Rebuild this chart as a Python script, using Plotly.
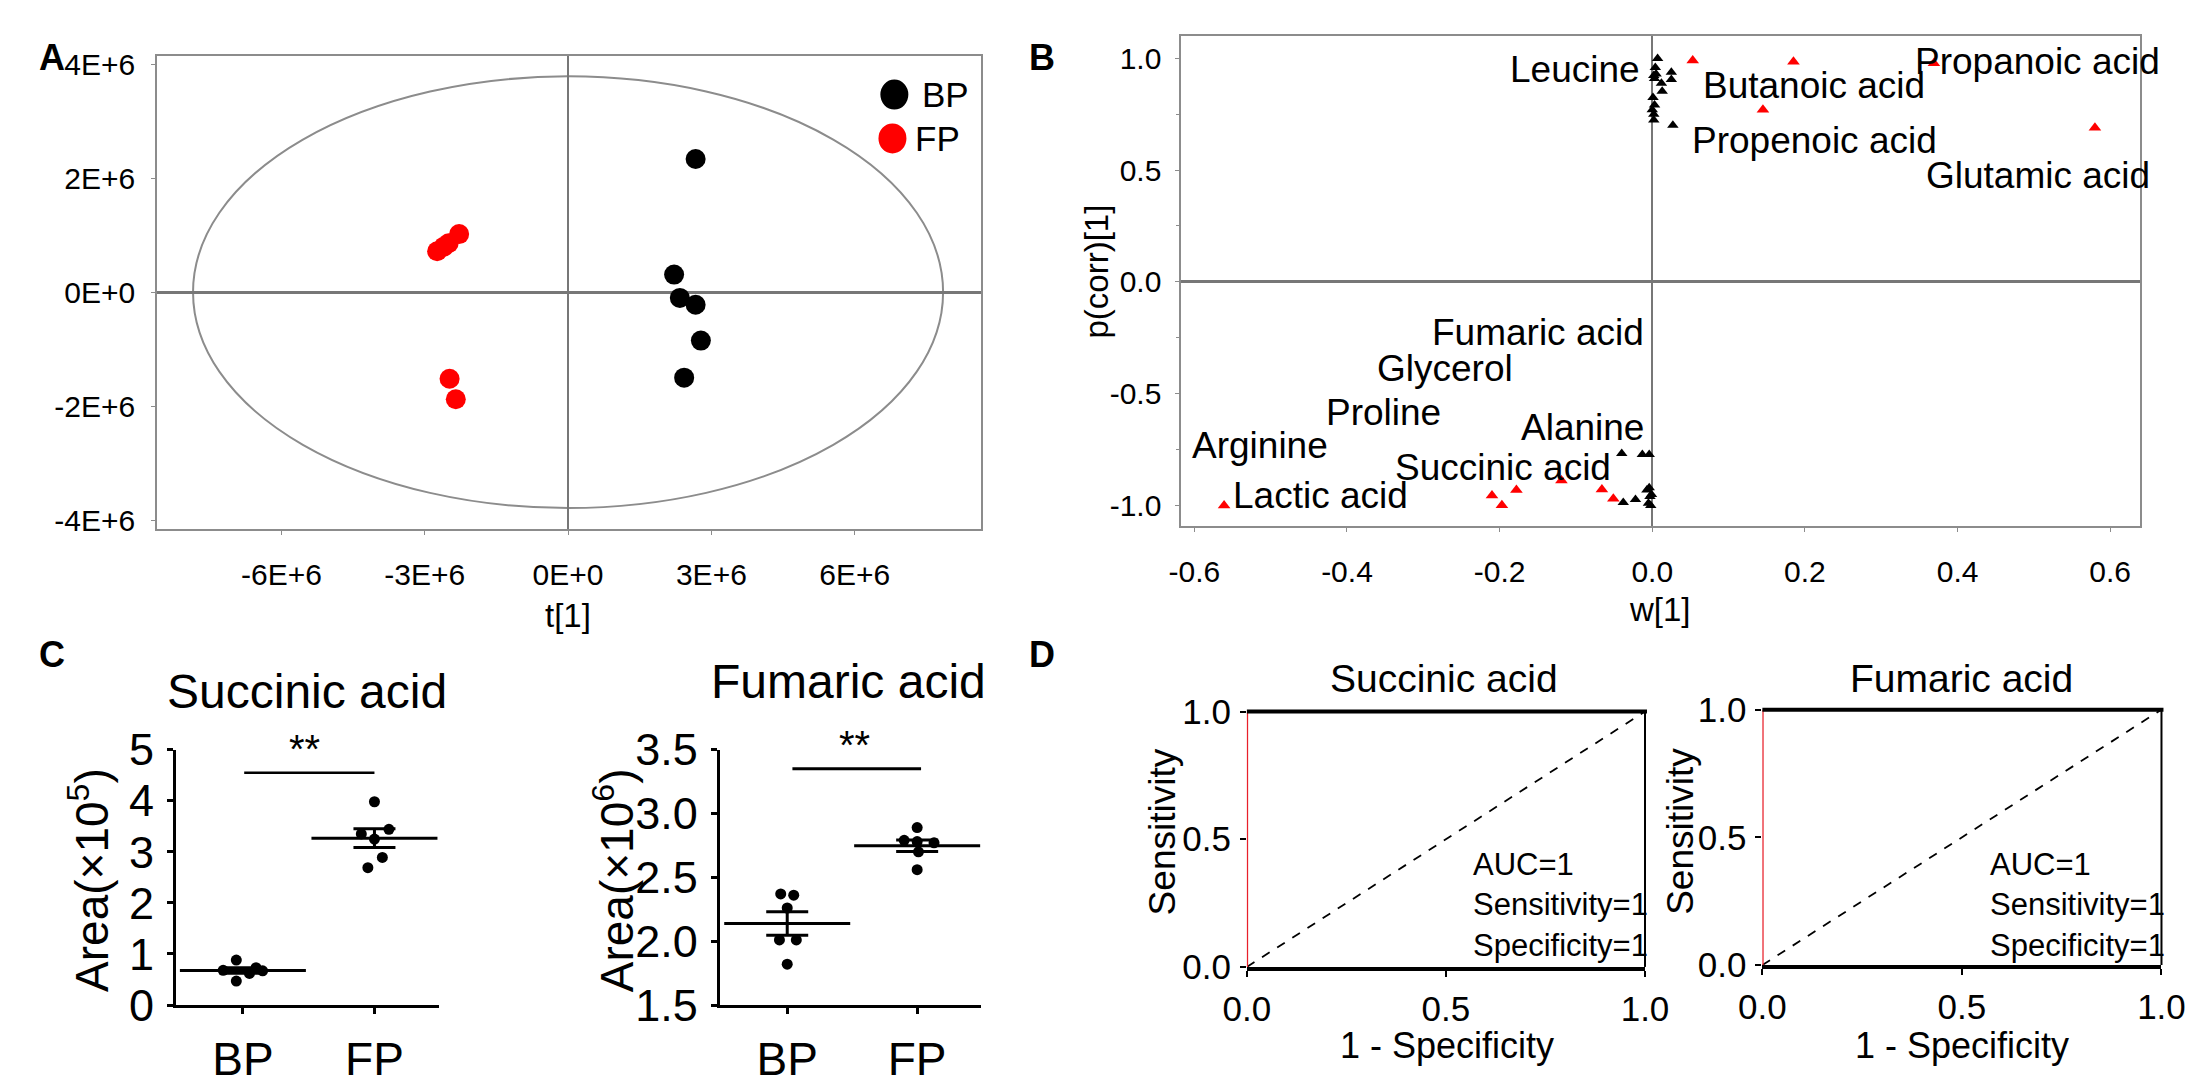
"""Metabolomics figure: OPLS-DA scores (A), S-plot (B), dot plots (C), ROC (D)."""

import numpy as np
import plotly.graph_objects as go

W, H = 2199, 1085
FONT = "Liberation Sans, Arial, sans-serif"

# ---------------- data ----------------
# A: OPLS-DA score plot, t[1] vs orthogonal component
score_bp_t1 = [2.67e6, 2.22e6, 2.34e6, 2.67e6, 2.78e6, 2.43e6]
score_bp_t2 = [2.34e6, 0.31e6, -0.10e6, -0.22e6, -0.85e6, -1.50e6]
score_fp_t1 = [-2.74e6, -2.60e6, -2.50e6, -2.28e6, -2.48e6, -2.35e6]
score_fp_t2 = [0.72e6, 0.80e6, 0.86e6, 1.02e6, -1.52e6, -1.88e6]
ellipse_t1 = 7.85e6   # Hotelling T2 semi-axes
ellipse_t2 = 3.79e6
a_xticks = ["-6E+6", "-3E+6", "0E+0", "3E+6", "6E+6"]
a_yticks = ["-4E+6", "-2E+6", "0E+0", "2E+6", "4E+6"]

# B: S-plot, w[1] vs p(corr)[1]
s_red_w = [0.053, 0.185, 0.145, 0.369, 0.580,
           -0.561, -0.210, -0.197, -0.178, -0.119, -0.066, -0.051]
s_red_p = [0.990, 0.984, 0.770, 0.977, 0.689,
           -1.000, -0.955, -0.999, -0.930, -0.888, -0.928, -0.970]
s_black_w = [0.007, 0.004, 0.002, 0.003, 0.012, 0.013, 0.025, 0.025, 0.005,
             0.001, 0.003, 0.000, 0.002, 0.002, 0.027,
             -0.040, -0.013, -0.004, -0.038, -0.022, -0.007, -0.003,
             -0.005, -0.001, -0.004, -0.002]
s_black_p = [0.999, 0.959, 0.923, 0.909, 0.888, 0.852, 0.937, 0.905, 0.930,
             0.824, 0.791, 0.770, 0.749, 0.724, 0.700,
             -0.767, -0.772, -0.772, -0.986, -0.973, -0.930, -0.960,
             -0.990, -0.950, -0.920, -1.000]
s_labels = ["Leucine", "Butanoic acid", "Propanoic acid", "Propenoic acid",
            "Glutamic acid", "Fumaric acid", "Glycerol", "Proline", "Alanine",
            "Arginine", "Succinic acid", "Lactic acid"]
b_xticks = ["-0.6", "-0.4", "-0.2", "0.0", "0.2", "0.4", "0.6"]
b_yticks = ["-1.0", "-0.5", "0.0", "0.5", "1.0"]

# C: peak areas per group
groups = ["BP", "FP"]
succinic_bp = [0.88, 0.68, 0.62, 0.73, 0.67, 0.47]      # x10^5
succinic_fp = [3.98, 3.35, 3.44, 3.25, 2.89, 2.69]
fumaric_bp = [2.37, 2.36, 2.26, 2.01, 2.01, 1.82]        # x10^6
fumaric_fp = [2.89, 2.79, 2.78, 2.77, 2.70, 2.56]

# D: ROC curves
roc_fpr = [0.0, 0.0, 1.0]
roc_tpr = [0.0, 1.0, 1.0]
roc_auc = [1, 1]
roc_sens = [1, 1]
roc_spec = [1, 1]

# ---------------- layout helpers ----------------
def dom_x(left, right):
    return [left / W, right / W]


def dom_y(top, bottom):
    return [1 - bottom / H, 1 - top / H]


def note(text, px, py, size, xanchor="center", weight="normal", **kw):
    return dict(text=text, x=px / W, y=1 - py / H, xref="paper", yref="paper",
                xanchor=xanchor, yanchor="middle", showarrow=False,
                font=dict(family=FONT, size=size, color="black", weight=weight), **kw)


# label anchors in S-plot data units (x, y, xanchor)
_LABEL_POS = [(-0.014, 0.95, "right"), (0.064, 0.88, "left"), (0.342, 0.987, "left"),
              (0.050, 0.632, "left"), (0.356, 0.476, "left"), (-0.291, -0.227, "left"),
              (-0.363, -0.385, "left"), (-0.430, -0.582, "left"), (-0.008, -0.653, "right"),
              (-0.606, -0.731, "left"), (-0.340, -0.831, "left"), (-0.552, -0.955, "left")]
# horizontal spread of dots inside each group (category units)
_JITTER = {
    "succinic_bp": [-0.05, -0.15, 0.05, 0.10, 0.15, -0.05],
    "succinic_fp": [0.0, -0.10, 0.11, 0.0, 0.06, -0.05],
    "fumaric_bp": [-0.05, 0.05, 0.0, -0.06, 0.07, 0.0],
    "fumaric_fp": [0.0, -0.10, 0.0, 0.13, 0.01, 0.0],
}

fig = go.Figure()

# ---------------- A ----------------
fig.add_trace(go.Scatter(x=score_bp_t1, y=score_bp_t2, mode="markers", xaxis="x", yaxis="y",
                         marker=dict(color="black", size=20), showlegend=False))
fig.add_trace(go.Scatter(x=score_fp_t1, y=score_fp_t2, mode="markers", xaxis="x", yaxis="y",
                         marker=dict(color="#ff0000", size=20), showlegend=False))

# ---------------- B ----------------
fig.add_trace(go.Scatter(x=s_black_w, y=s_black_p, mode="markers", xaxis="x2", yaxis="y2",
                         marker=dict(color="black", size=10, symbol="triangle-up"),
                         showlegend=False))
fig.add_trace(go.Scatter(x=s_red_w, y=s_red_p, mode="markers", xaxis="x2", yaxis="y2",
                         marker=dict(color="#ff0000", size=11, symbol="triangle-up"),
                         showlegend=False))

# ---------------- C ----------------
panels_c = [("x3", "y3", succinic_bp, succinic_fp, "succinic"),
            ("x4", "y4", fumaric_bp, fumaric_fp, "fumaric")]
for xa, ya, bp, fp, key in panels_c:
    means, sems = [], []
    for i, (vals, g) in enumerate([(bp, "bp"), (fp, "fp")]):
        arr = np.asarray(vals)
        means.append(arr.mean())
        sems.append(arr.std(ddof=1) / np.sqrt(len(arr)))
        fig.add_trace(go.Scatter(
            x=[i + j for j in _JITTER[f"{key}_{g}"]], y=vals, mode="markers",
            xaxis=xa, yaxis=ya, marker=dict(color="black", size=11),
            showlegend=False, cliponaxis=False))
    fig.add_trace(go.Scatter(
        x=[0, 1], y=means, mode="markers", xaxis=xa, yaxis=ya, showlegend=False,
        marker=dict(symbol="line-ew", size=90, line=dict(color="black", width=3)),
        error_y=dict(type="data", array=sems, color="black", thickness=3, width=21),
        cliponaxis=False))

# ---------------- D ----------------
for xa, ya in [("x5", "y5"), ("x6", "y6")]:
    fig.add_trace(go.Scatter(x=[0, 1], y=[0, 1], mode="lines", xaxis=xa, yaxis=ya,
                             line=dict(color="black", width=1.8, dash="dash"),
                             showlegend=False))
    fig.add_trace(go.Scatter(x=roc_fpr, y=roc_tpr, mode="lines", xaxis=xa, yaxis=ya,
                             line=dict(color="#e8202a", width=2.5), showlegend=False,
                             cliponaxis=False))

# ---------------- axes ----------------
grey = "#8c8c8c"
tickfont = dict(family=FONT, size=30, color="black")
box = dict(showline=True, mirror=True, linecolor=grey, linewidth=2, showgrid=False,
           ticks="outside", ticklen=4, tickcolor=grey, tickfont=tickfont)

layout = dict(
    width=W, height=H, margin=dict(l=0, r=0, t=0, b=0),
    paper_bgcolor="white", plot_bgcolor="white", showlegend=False,
    xaxis=dict(box, domain=dom_x(128, 970), range=[-8.6e6, 8.64e6],
               tickvals=[-6e6, -3e6, 0, 3e6, 6e6], ticktext=a_xticks,
               zeroline=True, zerolinecolor="#777777", zerolinewidth=1.5,
               ticklabelstandoff=14, anchor="y"),
    yaxis=dict(box, domain=dom_y(24, 520), range=[-4.15e6, 4.15e6],
               tickvals=[-4e6, -2e6, 0, 2e6, 4e6], ticktext=a_yticks,
               zeroline=True, zerolinecolor="#777777", zerolinewidth=2.5,
               ticklabelstandoff=10, anchor="x"),
    xaxis2=dict(box, domain=dom_x(1175, 2155), range=[-0.617, 0.639],
                tickvals=[-0.6, -0.4, -0.2, 0, 0.2, 0.4, 0.6], ticktext=b_xticks,
                zeroline=True, zerolinecolor="#777777", zerolinewidth=1.5,
                ticklabelstandoff=14, anchor="y2"),
    yaxis2=dict(box, domain=dom_y(3, 517), range=[-1.09, 1.10],
                tickvals=[-1, -0.5, 0, 0.5, 1], ticktext=b_yticks,
                minor=dict(dtick=0.25, ticks="outside", ticklen=3, tickcolor=grey),
                zeroline=True, zerolinecolor="#777777", zerolinewidth=2.5,
                ticklabelstandoff=8, anchor="x2"),
)

c_axis = dict(showline=True, linecolor="black", linewidth=2.5, showgrid=False,
              zeroline=False, ticks="outside", ticklen=6, tickwidth=2.5,
              tickcolor="black", tickfont=dict(family=FONT, size=45, color="black"))
c_xaxis = dict(c_axis, tickvals=[0, 1], ticktext=groups, ticklabelstandoff=6,
               tickfont=dict(family=FONT, size=46, color="black"))
layout["xaxis3"] = dict(c_xaxis, domain=dom_x(147, 416), range=[-0.51, 1.49], anchor="y3")
layout["yaxis3"] = dict(c_axis, domain=dom_y(752, 1020), range=[0, 5], dtick=1,
                        anchor="x3", ticklabelstandoff=4)
layout["xaxis4"] = dict(c_xaxis, domain=dom_x(703, 970), range=[-0.52, 1.49], anchor="y4")
layout["yaxis4"] = dict(c_axis, domain=dom_y(752, 1020), range=[1.5, 3.5], dtick=0.5,
                        tickformat=".1f", anchor="x4", ticklabelstandoff=4)

d_x = dict(showline=True, linecolor="black", linewidth=3.5, showgrid=False, zeroline=False,
           ticks="outside", ticklen=6, tickwidth=2, tickcolor="black", range=[0, 1],
           tickvals=[0, 0.5, 1], tickformat=".1f", ticklabelstandoff=2,
           tickfont=dict(family=FONT, size=35, color="black"))
d_y = dict(showline=False, showgrid=False, zeroline=False, ticks="outside", ticklen=6,
           tickwidth=2, tickcolor="black", range=[0, 1], tickvals=[0, 0.5, 1],
           tickformat=".1f", ticklabelstandoff=2,
           tickfont=dict(family=FONT, size=35, color="black"))
layout["xaxis5"] = dict(d_x, domain=dom_x(1242, 1649), anchor="y5")
layout["yaxis5"] = dict(d_y, domain=dom_y(712, 980), anchor="x5")
layout["xaxis6"] = dict(d_x, domain=dom_x(1769, 2177), anchor="y6")
layout["yaxis6"] = dict(d_y, domain=dom_y(710, 978), anchor="x6")

fig.update_layout(**layout)

# ---------------- shapes ----------------
shapes = [
    dict(type="circle", xref="x", yref="y", x0=-ellipse_t1, x1=ellipse_t1,
         y0=-ellipse_t2, y1=ellipse_t2, line=dict(color=grey, width=2), layer="below"),
    # legend dots of panel A
    dict(type="circle", xref="x", yref="y", xsizemode="pixel", ysizemode="pixel",
         xanchor=6.83e6, yanchor=3.47e6, x0=-14, x1=14, y0=-15, y1=15,
         fillcolor="black", line=dict(width=0)),
    dict(type="circle", xref="x", yref="y", xsizemode="pixel", ysizemode="pixel",
         xanchor=6.79e6, yanchor=2.70e6, x0=-14, x1=14, y0=-15, y1=15,
         fillcolor="#ff0000", line=dict(width=0)),
    # significance bars
    dict(type="line", xref="x3", yref="y3", x0=0.01, x1=1.0, y0=4.55, y1=4.55,
         line=dict(color="black", width=2.5)),
    dict(type="line", xref="x4", yref="y4", x0=0.04, x1=1.03, y0=3.35, y1=3.35,
         line=dict(color="black", width=3)),
]
for xa, ya in [("x5", "y5"), ("x6", "y6")]:
    shapes.append(dict(type="line", xref=f"{xa} domain", yref=f"{ya} domain",
                       x0=0, x1=1.005, y0=1, y1=1, line=dict(color="black", width=4)))
    shapes.append(dict(type="line", xref=f"{xa} domain", yref=f"{ya} domain",
                       x0=1, x1=1, y0=0, y1=1, line=dict(color="black", width=2)))
fig.update_layout(shapes=shapes)

# ---------------- annotations ----------------
ann = [
    note("A", 20, 26, 36, weight="bold"), note("B", 1033, 26, 36, weight="bold"),
    note("C", 20, 652, 36, weight="bold"), note("D", 1033, 652, 36, weight="bold"),
    note("t[1]", 548, 611, 33),
    note("w[1]", 1664, 605, 33),
    note("p(corr)[1]", 1088, 250, 33, textangle=-90),
    note("Succinic acid", 281, 691, 48), note("Fumaric acid", 835, 681, 48),
    note("Area(×10<sup>5</sup>)", 58, 889, 46, textangle=-90),
    note("Area(×10<sup>6</sup>)", 595, 889, 46, textangle=-90),
    note("Succinic acid", 1443, 677, 39), note("Fumaric acid", 1973, 677, 39),
    note("Sensitivity", 1156, 838, 37, textangle=-90),
    note("Sensitivity", 1685, 838, 37, textangle=-90),
    note("1 - Specificity", 1447, 1062, 36), note("1 - Specificity", 1973, 1062, 36),
]
ann.append(dict(text="BP", x=7.36e6, y=3.47e6, xref="x", yref="y", xanchor="left",
                yanchor="middle", showarrow=False,
                font=dict(family=FONT, size=35, color="black")))
ann.append(dict(text="FP", x=7.22e6, y=2.70e6, xref="x", yref="y", xanchor="left",
                yanchor="middle", showarrow=False,
                font=dict(family=FONT, size=35, color="black")))
for text, (lx, ly, anchor) in zip(s_labels, _LABEL_POS):
    ann.append(dict(text=text, x=lx, y=ly, xref="x2", yref="y2", xanchor=anchor,
                    yanchor="middle", showarrow=False,
                    font=dict(family=FONT, size=37, color="black")))
ann.append(dict(text="**", x=0.47, y=4.55, xref="x3", yref="y3", xanchor="center",
                yanchor="bottom", showarrow=False,
                font=dict(family=FONT, size=40, color="black")))
ann.append(dict(text="**", x=0.52, y=3.35, xref="x4", yref="y4", xanchor="center",
                yanchor="bottom", showarrow=False,
                font=dict(family=FONT, size=40, color="black")))
for left, auc, sens, spec in zip([1471, 2000], roc_auc, roc_sens, roc_spec):
    for py, text in zip([872, 915, 958],
                        [f"AUC={auc}", f"Sensitivity={sens}", f"Specificity={spec}"]):
        ann.append(note(text, left, py, 31, xanchor="left"))
fig.update_layout(annotations=ann)

fig.write_html("out.html")
